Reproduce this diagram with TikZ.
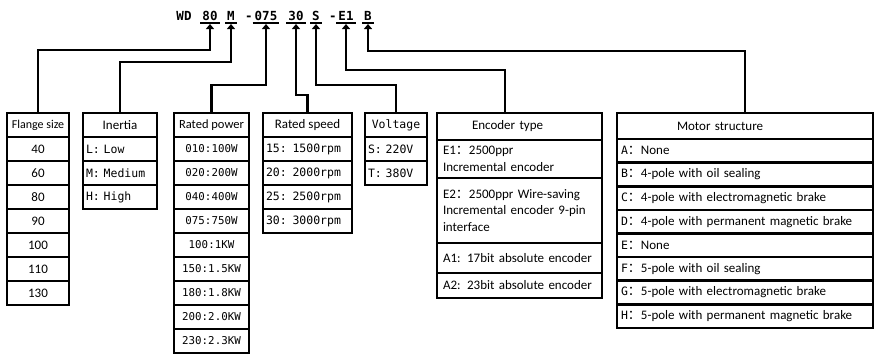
\documentclass[tikz,border=0pt]{standalone}
\usepackage{fontspec}
\setmainfont{Carlito}
\newfontfamily\codefont{DejaVu Sans Mono}
\newfontfamily\cjk{Noto Sans CJK SC}
\newcommand\monotxt{\codefont\fontsize{11.5}{13}\selectfont}
\usetikzlibrary{arrows.meta}

\tikzset{
  cell/.style={draw, line width=2.6pt, inner sep=0pt, outer sep=0pt, minimum height=24pt},
  lcell/.style={cell, align=left, inner xsep=3pt},
  seg/.style={font=\codefont\bfseries\fontsize{12.5}{13}\selectfont, inner sep=0pt, anchor=base},
  uline/.style={line width=1.8pt},
  conn/.style={line width=2.8pt, -{Triangle[width=8pt,length=5pt]}},
}

\begin{document}
\begin{tikzpicture}[x=1pt, y=-1pt, font=\fontsize{13}{16.5}\selectfont]
\useasboundingbox (0,0) rectangle (875,354);

\def\rowh{24}
\def\toprow{113}
\def\colA{38}     % flange size
\def\colB{120}    % inertia
\def\colC{211.5}  % rated power
\def\colD{307.5}  % rated speed
\def\colE{396}    % voltage
\def\colF{519.5}  % encoder type
\def\colG{745}    % motor structure

% model code
\foreach \n/\x/\t in {WD/184/WD, 80/210/80, M/231/M, d1/249/-, 075/266/075,
                      30/296/30, S/316/S, d2/333/-, E1/346/E1, B/368/B}
  \node[seg] (c\n) at (\x,20) {\t};
\foreach \n in {80,M,075,30,S,E1,B} {
  \draw[uline] ([xshift=-2pt,yshift=-3pt]c\n.base west) -- ([xshift=2pt,yshift=-3pt]c\n.base east);
  \coordinate (t\n) at ([yshift=-4pt]c\n.base);
}

% flange size
\node[cell, minimum width=62pt, font=\fontsize{12}{14}\selectfont] (fl-0) at (\colA, \toprow+\rowh/2) {Flange size};
\foreach \i/\txt in {1/40,2/60,3/80,4/90,5/100,6/110,7/130}
  \node[cell, minimum width=62pt] (fl-\i) at (\colA, \toprow+\i*\rowh+\rowh/2) {\txt};

% inertia
\node[cell, minimum width=74pt] (in-0) at (\colB, \toprow+\rowh/2) {Inertia};
\foreach \i/\txt in {1/L: Low,2/M: Medium,3/H: High}
  \node[lcell, text width=68pt, font=\monotxt] (in-\i) at (\colB, \toprow+\i*\rowh+\rowh/2) {\txt};

% rated power
\node[cell, minimum width=75pt, font=\fontsize{12.5}{14}\selectfont] (pw-0) at (\colC, \toprow+\rowh/2) {Rated power};
\foreach \i/\txt in {1/010:100W,2/020:200W,3/040:400W,4/075:750W,5/100:1KW,
                     6/150:1.5KW,7/180:1.8KW,8/200:2.0KW,9/230:2.3KW}
  \node[cell, minimum width=75pt, font=\codefont\fontsize{10.8}{13}\selectfont] (pw-\i)
    at (\colC, \toprow+\i*\rowh+\rowh/2) {\txt};

% rated speed
\node[cell, minimum width=89pt] (sp-0) at (\colD, \toprow+\rowh/2) {Rated speed};
\foreach \i/\txt in {1/15: 1500rpm,2/20: 2000rpm,3/25: 2500rpm,4/30: 3000rpm}
  \node[lcell, text width=83pt, font=\monotxt] (sp-\i) at (\colD, \toprow+\i*\rowh+\rowh/2) {\txt};

% voltage
\node[cell, minimum width=62pt, font=\monotxt] (vo-0) at (\colE, \toprow+\rowh/2) {Voltage};
\foreach \i/\txt in {1/S: 220V,2/T: 380V}
  \node[lcell, text width=56pt, font=\monotxt] (vo-\i) at (\colE, \toprow+\i*\rowh+\rowh/2) {\txt};

% encoder type
\node[lcell, text width=157pt, inner xsep=4pt, minimum height=27pt] (en-0) at (\colF, 126.5)
  {\hspace*{31pt}Encoder type};
\foreach \i/\y/\h/\txt in {
  1/159/38/{E1{\cjk ：}2500ppr\\Incremental encoder},
  2/210.5/65/{E2{\cjk ：}2500ppr Wire-saving\\Incremental encoder 9-pin\\interface},
  3/258/30/{A1: 17bit absolute encoder},
  4/285.5/25/{A2: 23bit absolute encoder}}
  \node[lcell, text width=153pt, inner xsep=6pt, minimum height=\h pt] (en-\i) at (\colF, \y) {\txt};

% motor structure
\node[lcell, text width=248pt, inner xsep=4pt, minimum height=26pt] (mo-0) at (\colG, 126)
  {\hspace*{56pt}Motor structure};
\foreach \i/\l/\txt in {1/A/None, 2/B/4-pole with oil sealing, 3/C/4-pole with electromagnetic brake,
                        4/D/4-pole with permanent magnetic brake, 5/E/None, 6/F/5-pole with oil sealing,
                        7/G/5-pole with electromagnetic brake, 8/H/5-pole with permanent magnetic brake}
  \node[lcell, text width=248pt, inner xsep=4pt, minimum height=23.6pt] (mo-\i) at (\colG, 139+\i*23.6-11.8)
    {{\monotxt\l}{\cjk ：}\txt};

% connectors
\draw[conn] (fl-0.north) -- (fl-0.north |- 0,50) -| (t80);
\draw[conn] (in-0.north) -- (in-0.north |- 0,62) -| (tM);
\draw[conn] (pw-0.north) -- (pw-0.north |- 0,85) -| (t075);
\draw[conn] (sp-0.north) -- (sp-0.north |- 0,95) -| (t30);
\draw[conn] (vo-0.north) -- (vo-0.north |- 0,85) -| (tS);
\draw[conn] ([xshift=-14.5pt]en-0.north) -- ++(0,-43) -| (tE1);
\draw[conn] (mo-0.north) -- (mo-0.north |- 0,51) -| (tB);

\end{tikzpicture}
\end{document}
